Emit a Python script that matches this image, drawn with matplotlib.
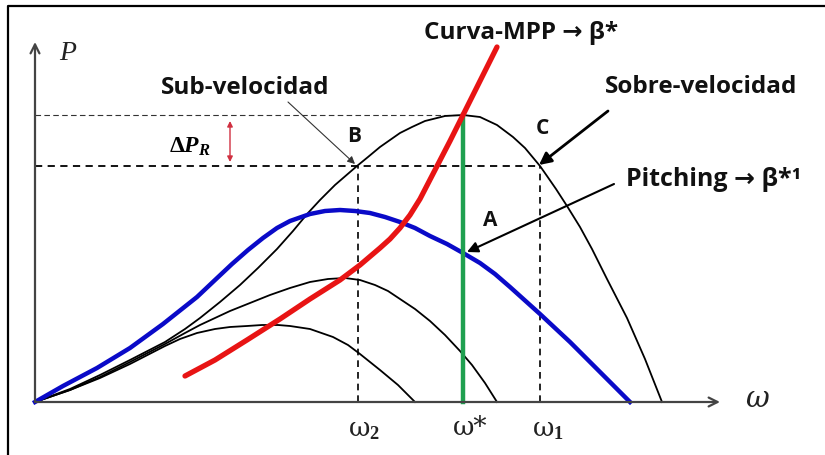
import matplotlib
matplotlib.use("Agg")
import matplotlib.pyplot as plt

plt.rcParams["mathtext.fontset"] = "custom"
plt.rcParams["mathtext.rm"] = "Liberation Serif:bold"
plt.rcParams["mathtext.it"] = "Liberation Serif:italic:bold"
plt.rcParams["mathtext.bf"] = "Liberation Serif:bold"

# curvas P(w) (unidades arbitrarias)
w_curva1 = [0, 0.35, 0.65, 0.95, 1.30, 1.50, 1.65, 1.85, 2.05, 2.23, 2.42, 2.58, 2.73,
            2.85, 3.00, 3.22, 3.33, 3.45, 3.65, 3.77, 3.90, 4.10, 4.28, 4.45, 4.62,
            4.78, 4.90, 5.05, 5.12, 5.21, 5.32, 5.45, 5.57, 5.72, 5.92, 6.10, 6.27]
p_curva1 = [0, 0.13, 0.27, 0.42, 0.60, 0.73, 0.84, 1.00, 1.17, 1.34, 1.53, 1.71, 1.89,
            2.02, 2.17, 2.36, 2.45, 2.55, 2.69, 2.75, 2.81, 2.86, 2.87, 2.85, 2.77,
            2.65, 2.54, 2.36, 2.26, 2.13, 1.96, 1.75, 1.53, 1.23, 0.84, 0.43, 0]

w_curva2 = [0, 0.35, 0.65, 0.95, 1.30, 1.50, 1.65, 1.95, 2.15, 2.35, 2.55, 2.75, 2.93,
            3.10, 3.25, 3.40, 3.53, 3.65, 3.80, 3.95, 4.10, 4.25, 4.37, 4.50, 4.62]
p_curva2 = [0, 0.12, 0.25, 0.40, 0.58, 0.69, 0.77, 0.91, 0.99, 1.07, 1.14, 1.20, 1.23,
            1.24, 1.22, 1.17, 1.11, 1.03, 0.93, 0.81, 0.67, 0.51, 0.37, 0.19, 0]

w_curva3 = [0, 0.35, 0.65, 0.95, 1.30, 1.45, 1.62, 1.80, 1.95, 2.12, 2.27, 2.43, 2.55,
            2.75, 2.98, 3.13, 3.25, 3.45, 3.63, 3.80]
p_curva3 = [0, 0.12, 0.24, 0.38, 0.56, 0.63, 0.69, 0.73, 0.75, 0.76, 0.77, 0.77, 0.76,
            0.73, 0.65, 0.57, 0.48, 0.32, 0.17, 0]

w_pitch = [0, 0.28, 0.62, 0.95, 1.28, 1.62, 1.80, 1.97, 2.13, 2.28, 2.42, 2.55, 2.75,
           2.90, 3.05, 3.20, 3.35, 3.50, 3.65, 3.80, 3.95, 4.12, 4.28, 4.45, 4.60,
           4.75, 5.05, 5.35, 5.65, 5.95]
p_pitch = [0, 0.16, 0.34, 0.54, 0.78, 1.05, 1.22, 1.38, 1.52, 1.64, 1.74, 1.81, 1.88,
           1.91, 1.92, 1.91, 1.89, 1.85, 1.80, 1.74, 1.66, 1.58, 1.49, 1.39, 1.28,
           1.15, 0.88, 0.60, 0.30, 0]

w_mpp = [1.50, 1.80, 2.12, 2.45, 2.75, 3.05, 3.25, 3.45, 3.55, 3.65, 3.75, 3.85, 4.00,
         4.15, 4.28, 4.45, 4.62]
p_mpp = [0.26, 0.42, 0.62, 0.83, 1.03, 1.22, 1.37, 1.54, 1.63, 1.74, 1.87, 2.03, 2.32,
         2.61, 2.87, 3.21, 3.55]

w_opt = 4.28      # w*
w_2 = 3.23        # sub-velocidad
w_1 = 5.05        # sobre-velocidad
p_max = 2.87
p_r = 2.36
p_a = 1.49
w_fin = 6.85
p_fin = 3.60

fig = plt.figure(figsize=(8.25, 4.56), dpi=100)
ax = fig.add_axes([0, 0, 1, 1])
ax.set_xlim(-0.35, 7.90)
ax.set_ylim(-0.53, 4.03)
ax.axis("off")

# marco exterior
ax.plot([-0.27, -0.27, 9], [-1, 3.96, 3.96], color="black", lw=1.6, clip_on=False)

# ejes con flecha
gris = "#444444"
ax.annotate("", xy=(w_fin, 0), xytext=(0, 0),
            arrowprops=dict(arrowstyle="->", color=gris, lw=1.6, mutation_scale=16,
                            shrinkA=0, shrinkB=0))
ax.annotate("", xy=(0, p_fin), xytext=(0, 0),
            arrowprops=dict(arrowstyle="->", color=gris, lw=1.6, mutation_scale=16,
                            shrinkA=0, shrinkB=0))
ax.text(0.33, 3.50, "P", fontsize=20, fontstyle="italic", family="Liberation Serif",
        ha="center", va="center", color="#222222")
ax.text(7.22, 0.04, "ω", fontsize=21, fontstyle="italic", family="DejaVu Serif",
        ha="center", va="center", color="#222222")

# lineas punteadas
ax.plot([0, w_opt], [p_max, p_max], ls=(0, (5, 3)), color="#333333", lw=0.8)
ax.plot([0, w_1], [p_r, p_r], ls=(0, (4, 3)), color="black", lw=1.3)
ax.plot([w_2, w_2], [0, p_r], ls=(0, (4, 3)), color="black", lw=1.2)
ax.plot([w_1, w_1], [0, p_r], ls=(0, (4, 3)), color="black", lw=1.2)

# curvas
for w, p in [(w_curva1, p_curva1), (w_curva2, p_curva2), (w_curva3, p_curva3)]:
    ax.plot(w, p, color="black", lw=1.3, solid_joinstyle="round")
ax.plot(w_pitch, p_pitch, color="#0a0ac8", lw=3.2, solid_joinstyle="round")
ax.plot([w_opt, w_opt], [0, p_max], color="#1fa050", lw=3.2)
ax.plot(w_mpp, p_mpp, color="#e81414", lw=3.8, solid_capstyle="round",
        solid_joinstyle="round")

# etiquetas del eje w
eje = dict(fontsize=19, family="DejaVu Serif", ha="center", va="center",
           color="#222222")
ax.text(w_2 + 0.06, -0.27, "ω$_2$", **eje)
ax.text(w_opt + 0.07, -0.25, "ω*", **eje)
ax.text(w_1 + 0.08, -0.27, "ω$_1$", **eje)

# delta P_R
ax.text(1.55, 2.57, r"$\Delta P_R$", fontsize=17, ha="center", va="center")
ax.annotate("", xy=(1.95, p_max - 0.06), xytext=(1.95, p_r + 0.04),
            arrowprops=dict(arrowstyle="<|-|>", color="#d03040", lw=1.0,
                            mutation_scale=8, shrinkA=0, shrinkB=0))

# textos y flechas
fuente = ["Open Sans", "DejaVu Sans"]
estilo = dict(fontsize=17.5, fontweight="bold", family=fuente, ha="center",
              va="center", color="#111111")
ax.text(2.10, 3.15, "Sub-velocidad", **estilo)
ax.annotate("", xy=(w_2 - 0.03, p_r + 0.02), xytext=(2.53, 3.00),
            arrowprops=dict(arrowstyle="-|>", color="#333333", lw=0.8,
                            mutation_scale=11, shrinkA=0, shrinkB=0))
ax.text(6.66, 3.16, "Sobre-velocidad", **estilo)
ax.annotate("", xy=(w_1 - 0.01, p_r + 0.01), xytext=(5.73, 2.91),
            arrowprops=dict(arrowstyle="-|>", color="black", lw=2.0,
                            mutation_scale=18, shrinkA=0, shrinkB=0))
ax.text(6.79, 2.23, "Pitching → β*¹", fontsize=18, fontweight="bold", family=fuente,
        ha="center", va="center", color="#111111")
ax.annotate("", xy=(w_opt + 0.04, p_a + 0.01), xytext=(5.79, 2.18),
            arrowprops=dict(arrowstyle="-|>", color="black", lw=1.5,
                            mutation_scale=16, shrinkA=0, shrinkB=0))
ax.text(4.86, 3.70, "Curva-MPP → β*", **estilo)

letra = dict(fontsize=15, fontweight="bold", family=fuente, ha="center",
             va="center", color="#111111")
ax.text(3.19, 2.66, "B", **letra)
ax.text(5.07, 2.75, "C", **letra)
ax.text(4.55, 1.82, "A", **letra)

fig.savefig("out.png", dpi=100)
